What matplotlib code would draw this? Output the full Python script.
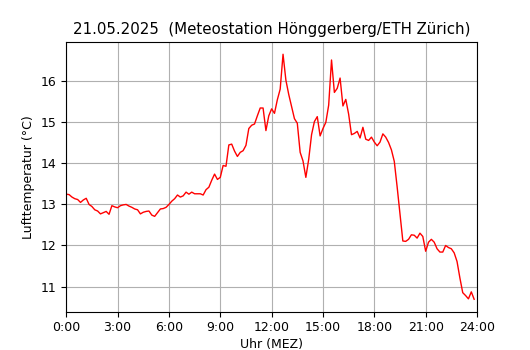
import matplotlib
matplotlib.use("Agg")
import matplotlib.pyplot as plt
import numpy as np

# 10-minute temperature values (°C), 0:00 .. 23:50
temp_h00_05 = [13.25, 13.24, 13.18, 13.14, 13.12, 13.05,
               13.11, 13.15, 13.00, 12.95, 12.87, 12.84,
               12.77, 12.80, 12.83, 12.76, 12.97, 12.94,
               12.92, 12.97, 12.99, 13.00, 12.96, 12.93,
               12.89, 12.87, 12.77, 12.81, 12.83, 12.84,
               12.74, 12.71, 12.80, 12.89, 12.90, 12.93]
temp_h06_11 = [13.00, 13.08, 13.14, 13.23, 13.18, 13.21,
               13.30, 13.25, 13.30, 13.26, 13.26, 13.26,
               13.23, 13.36, 13.42, 13.59, 13.74, 13.61,
               13.66, 13.95, 13.93, 14.45, 14.47, 14.30,
               14.17, 14.27, 14.31, 14.44, 14.85, 14.93,
               14.96, 15.16, 15.35, 15.35, 14.80, 15.16]
temp_h12_17 = [15.33, 15.22, 15.55, 15.81, 16.66, 16.03,
               15.68, 15.39, 15.09, 14.98, 14.27, 14.06,
               13.66, 14.10, 14.70, 15.02, 15.14, 14.67,
               14.85, 15.00, 15.42, 16.52, 15.73, 15.83,
               16.08, 15.40, 15.56, 15.20, 14.70, 14.73,
               14.78, 14.62, 14.88, 14.59, 14.56, 14.64]
temp_h18_23 = [14.52, 14.43, 14.52, 14.72, 14.64, 14.51,
               14.33, 14.05, 13.43, 12.78, 12.11, 12.10,
               12.15, 12.26, 12.25, 12.18, 12.30, 12.22,
               11.86, 12.08, 12.15, 12.08, 11.92, 11.84,
               11.84, 12.00, 11.95, 11.92, 11.82, 11.61,
               11.21, 10.85, 10.78, 10.70, 10.87, 10.69]

temps = temp_h00_05 + temp_h06_11 + temp_h12_17 + temp_h18_23
hours = np.arange(len(temps)) / 6.0

tick_hours = [0, 3, 6, 9, 12, 15, 18, 21, 24]
tick_labels = ["0:00", "3:00", "6:00", "9:00", "12:00", "15:00", "18:00", "21:00", "24:00"]

fig, ax = plt.subplots(figsize=(5.3, 3.5), dpi=100)
ax.plot(hours, temps, color="red", linewidth=1.0)
ax.set_xlim(0, 24)
ax.set_xticks(tick_hours)
ax.set_xticklabels(tick_labels)
ax.grid(True, color="#b0b0b0", linewidth=0.8)
ax.set_axisbelow(True)
ax.set_title("21.05.2025  (Meteostation Hönggerberg/ETH Zürich)", fontsize=10.8)
ax.set_xlabel("Uhr (MEZ)", fontsize=9, labelpad=2.5)
ax.set_ylabel("Lufttemperatur (°C)", fontsize=9)
ax.tick_params(labelsize=9)
fig.subplots_adjust(left=0.125, right=0.9, bottom=0.11, top=0.88)
fig.savefig("out.png", dpi=100)
